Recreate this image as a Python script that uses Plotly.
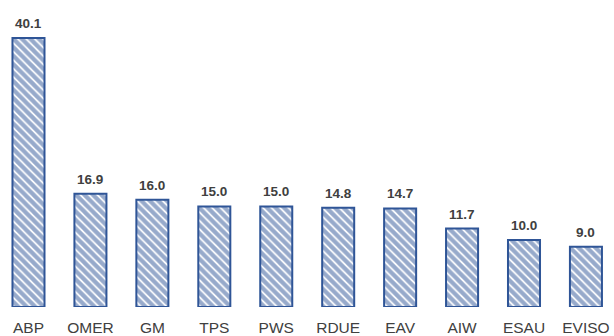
import plotly.graph_objects as go

categories = ["ABP", "OMER", "GM", "TPS", "PWS", "RDUE", "EAV", "AIW", "ESAU", "EVISO"]
values = [40.1, 16.9, 16.0, 15.0, 15.0, 14.8, 14.7, 11.7, 10.0, 9.0]

BLUE = "#2F5597"
TEXT = "#404040"

fig = go.Figure()
fig.add_trace(go.Bar(
    x=categories,
    y=values,
    width=0.517,
    marker=dict(
        color="white",
        line=dict(color=BLUE, width=2),
        pattern=dict(shape="\\", fgcolor=BLUE, bgcolor="white", size=6, solidity=0.7),
    ),
    hoverinfo="skip",
))

# value labels above each bar
for c, v in zip(categories, values):
    fig.add_annotation(
        x=c, y=v, text=f"<b>{v:.1f}</b>", showarrow=False,
        yanchor="bottom", yshift=5,
        font=dict(family="Arial, Liberation Sans", size=13.5, color=TEXT),
    )

fig.update_layout(
    width=614, height=336,
    margin=dict(l=0, r=0, t=0, b=29),
    paper_bgcolor="white", plot_bgcolor="white",
    showlegend=False,
    xaxis=dict(
        range=[-0.46, 9.453], showgrid=False, showline=False, zeroline=False,
        ticks="", ticklabelstandoff=9,
        tickfont=dict(family="Arial, Liberation Sans", size=15.5, color=TEXT),
    ),
    yaxis=dict(range=[0, 45.77], visible=False),
)

fig.write_html("out.html")
